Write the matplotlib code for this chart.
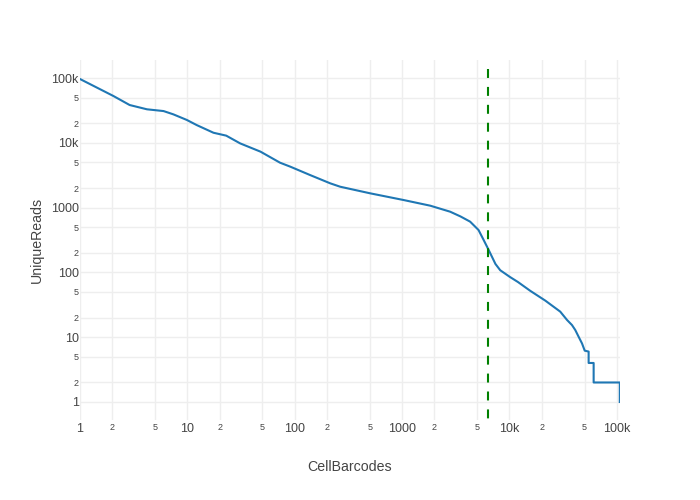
import numpy as np
import matplotlib.pyplot as plt
from matplotlib.ticker import FixedLocator, FixedFormatter

plt.rcParams['font.family'] = ['Liberation Sans', 'DejaVu Sans']

# barcode rank vs unique reads
barcodes = [1, 2.05, 2.9, 4.2, 6, 7.4, 9.9, 12.2, 17.5, 23, 31, 48, 73, 91,
            139, 214, 265, 505, 1030, 1830, 2800, 3500, 4300, 5150, 5750,
            6400, 7400, 8200, 10100, 12000, 15600, 21600, 29700, 34400, 38200,
            41000, 44000, 47400, 50200, 54600, 54600, 60800, 60800, 106500,
            106500]
reads = [96500, 52700, 38300, 32900, 30900, 27500, 22500, 18800, 14300,
         12900, 9800, 7300, 4930, 4280, 3180, 2370, 2100, 1660, 1310, 1070,
         865, 730, 607, 451, 316, 222, 135, 108, 85, 71, 52, 36.6, 24.8, 18.4,
         15.4, 12.9, 10.2, 8, 6.2, 6, 4, 4, 2, 2, 1]
cutoff = 6300
cutoff_top = 138000

x_major = [1, 10, 100, 1000, 10000, 100000]
x_major_lab = ['1', '10', '100', '1000', '10k', '100k']
y_major = [1, 10, 100, 1000, 10000, 100000]
y_major_lab = ['1', '10', '100', '1000', '10k', '100k']

fig = plt.figure(figsize=(7, 5), dpi=100)
ax = fig.add_axes([80 / 700, 80 / 500, 540 / 700, 360 / 500])

ax.plot(barcodes, reads, color='#1f77b4', lw=1.5, zorder=3)
ax.plot([cutoff, cutoff], [cutoff_top, 0.3], color='green', lw=1.5,
        dashes=(4.3, 4.3), zorder=4)

ax.set_xscale('log')
ax.set_yscale('log')
ax.set_xlim(1, 107000)
ax.set_ylim(10 ** -0.278, 10 ** 5.278)

def minor_ticks(lo, hi):
    out = []
    for d in range(lo, hi):
        out += [2 * 10 ** d, 5 * 10 ** d]
    return out

for axis, major, lab, mn in [(ax.xaxis, x_major, x_major_lab, minor_ticks(0, 5)),
                             (ax.yaxis, y_major, y_major_lab, minor_ticks(-1, 5))]:
    axis.set_major_locator(FixedLocator(major))
    axis.set_major_formatter(FixedFormatter(lab))
    axis.set_minor_locator(FixedLocator(mn))
    axis.set_minor_formatter(FixedFormatter(['2', '5'] * (len(mn) // 2)))

ax.tick_params(which='both', length=0, colors='#444444')
ax.tick_params(which='major', labelsize=9)
ax.tick_params(which='minor', labelsize=6.5)
ax.tick_params(axis='x', which='both', pad=2)
ax.tick_params(axis='y', which='both', pad=1)

ax.grid(True, which='both', color='#eeeeee', lw=1)
ax.set_axisbelow(True)
for s in ax.spines.values():
    s.set_visible(False)

fig.text(350 / 700, 1 - 467 / 500, 'CellBarcodes', ha='center', va='center',
         fontsize=10.2, color='#444444')
fig.text(37 / 700, 1 - 240 / 500, 'UniqueReads', ha='center', va='center',
         rotation=90, fontsize=10.2, color='#444444')

fig.savefig('out.png', dpi=100)
